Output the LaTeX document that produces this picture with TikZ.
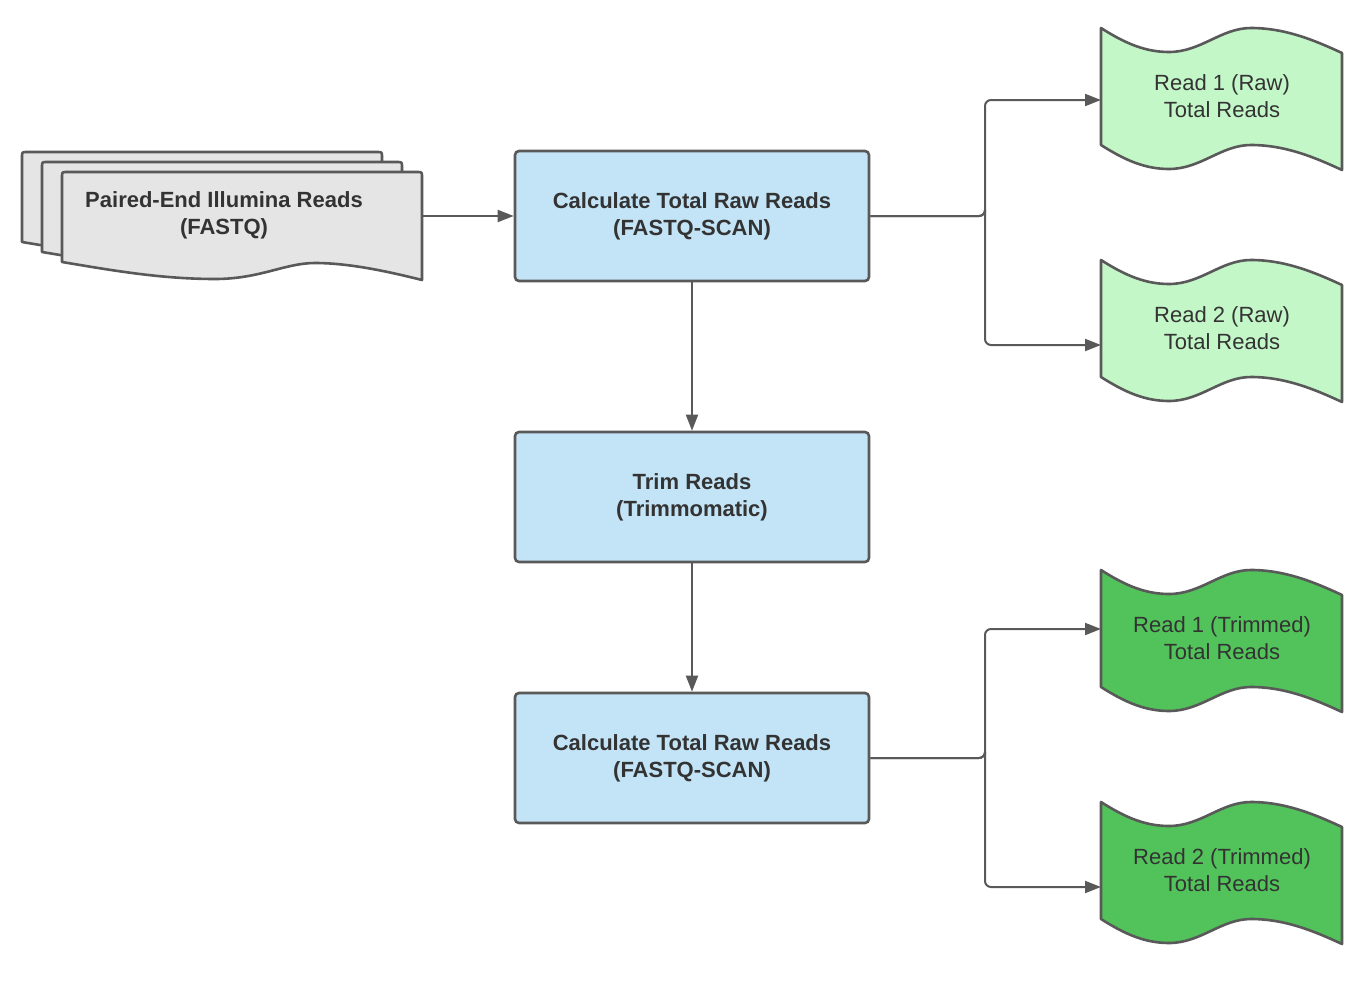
\documentclass[tikz,border=0pt]{standalone}
\usepackage{fontspec}
\setmainfont{Liberation Sans}
\usetikzlibrary{arrows.meta}
\definecolor{edge}{HTML}{595959}
\definecolor{txt}{HTML}{333333}
\definecolor{boxblue}{HTML}{C3E4F6}
\definecolor{lgreen}{HTML}{C3F7C8}
\definecolor{dgreen}{HTML}{52C35A}
\definecolor{docgray}{HTML}{E5E5E5}
\tikzset{
  procbox/.style={draw=edge, line width=2.6pt, fill=boxblue, rounded corners=4pt,
    minimum width=354pt, minimum height=130pt, inner sep=0pt,
    text=txt, font=\fontsize{22}{27}\selectfont\bfseries, align=center},
  label/.style={text=txt, align=center, inner sep=0pt},
  conn/.style={draw=edge, line width=2pt, rounded corners=6pt,
    -{Triangle[length=16pt,width=12pt]}},
  shapeline/.style={draw=edge, line width=2.6pt, line join=round},
  pics/wavedoc/.style={code={
    \path[shapeline, fill=#1]
      (0,0) .. controls (25,16) and (45,24) .. (68,24)
      .. controls (100,24) and (120,0) .. (150,0)
      .. controls (185,0) and (215,13) .. (241,25)
      -- (241,142)
      .. controls (215,130) and (185,117) .. (150,117)
      .. controls (120,117) and (100,141) .. (68,141)
      .. controls (45,141) and (25,133) .. (0,117) -- cycle;
  }},
  pics/fastqdoc/.style={code={
    \path[shapeline, fill=docgray]
      (0,90) -- (0,5) .. controls (0,0) .. (5,0) -- (355,0)
      .. controls (360,0) .. (360,5) -- (360,108)
      .. controls (328,100) and (288,91) .. (253,91)
      .. controls (223,91) and (198,107) .. (153,107)
      .. controls (98,107) and (48,98) .. (0,90) -- cycle;
  }}
}
\begin{document}
\begin{tikzpicture}[x=1pt,y=-1pt]
\useasboundingbox (0,0) rectangle (1366,990);

% multi-document source
\pic at (22,152) {fastqdoc};
\pic at (42,162) {fastqdoc};
\pic at (62,172) {fastqdoc};
\node[label, font=\fontsize{22}{27}\selectfont\bfseries] (src) at (224,215) {Paired-End Illumina Reads\\(FASTQ)};
\coordinate (srcR) at (422,216);

% process boxes
\node[procbox] (calc1) at (692,216) {Calculate Total Raw Reads\\(FASTQ-SCAN)};
\node[procbox] (trim) at (692,497) {Trim Reads\\(Trimmomatic)};
\node[procbox] (calc2) at (692,758) {Calculate Total Raw Reads\\(FASTQ-SCAN)};

% output documents
\pic at (1101,28) {wavedoc=lgreen};
\pic at (1101,260) {wavedoc=lgreen};
\pic at (1101,570) {wavedoc=dgreen};
\pic at (1101,802) {wavedoc=dgreen};
\node[label, font=\fontsize{22}{27}\selectfont] (r1raw) at (1222,96) {Read 1 (Raw)\\Total Reads};
\node[label, font=\fontsize{22}{27}\selectfont] (r2raw) at (1222,328) {Read 2 (Raw)\\Total Reads};
\node[label, font=\fontsize{22}{27}\selectfont] (r1trim) at (1222,638) {Read 1 (Trimmed)\\Total Reads};
\node[label, font=\fontsize{22}{27}\selectfont] (r2trim) at (1222,870) {Read 2 (Trimmed)\\Total Reads};
\coordinate (r1rawL) at (1101,100);
\coordinate (r2rawL) at (1101,345);
\coordinate (r1trimL) at (1101,629);
\coordinate (r2trimL) at (1101,887);

% connectors
\draw[conn] (srcR) -- (calc1.west);
\draw[conn] (calc1.south) -- (trim.north);
\draw[conn] (trim.south) -- (calc2.north);
\draw[conn] (calc1.east) -| (985,216) |- (r1rawL);
\draw[conn] (calc1.east) -| (985,216) |- (r2rawL);
\draw[conn] (calc2.east) -| (985,758) |- (r1trimL);
\draw[conn] (calc2.east) -| (985,758) |- (r2trimL);
\end{tikzpicture}
\end{document}
